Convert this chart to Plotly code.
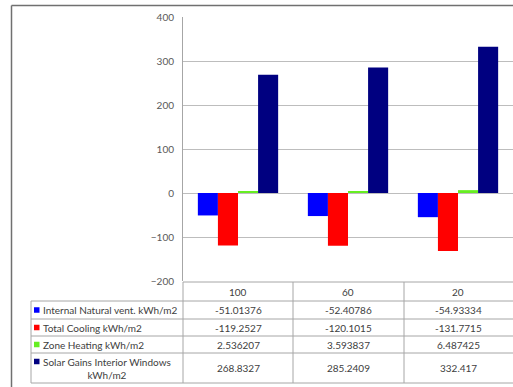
import plotly.graph_objects as go

# Orientation categories (column headers of the data table)
categories = ["100", "60", "20"]

# Series names and values (kWh/m2)
series_names = [
    "Internal Natural vent. kWh/m2",
    "Total Cooling kWh/m2",
    "Zone Heating kWh/m2",
    "Solar Gains Interior Windows kWh/m2",
]
natural_vent = [-51.01376, -52.40786, -54.93334]
total_cooling = [-119.2527, -120.1015, -131.7715]
zone_heating = [2.536207, 3.593837, 6.487425]
solar_gains = [268.8327, 285.2409, 332.417]

# Labels shown in the first column of the data table
row_labels = [
    "Internal Natural vent. kWh/m2",
    "Total Cooling kWh/m2",
    "Zone Heating kWh/m2",
    "Solar Gains Interior Windows<br>kWh/m2",
]
value_labels = [
    ["-51.01376", "-52.40786", "-54.93334"],
    ["-119.2527", "-120.1015", "-131.7715"],
    ["2.536207", "3.593837", "6.487425"],
    ["268.8327", "285.2409", "332.417"],
]

y_ticks = [-200, -100, 0, 100, 200, 300, 400]

colors = ["#0000FF", "#FF0000", "#66EE22", "#000080"]
series_values = [natural_vent, total_cooling, zone_heating, solar_gains]

W, H = 513, 387
ML, MR, MT, MB = 183, 0, 17, 106
PW, PH = W - ML - MR, H - MT - MB

FONT = "Lato"
TEXT = "#404040"
GRID = "#bdbdbd"
TABLE_LINE = "#a6a6a6"
FS = 10


def px_x(px):
    return (px - ML) / PW


def px_y(py):
    return (H - MB - py) / PH


fig = go.Figure()
for name, vals, col in zip(series_names, series_values, colors):
    fig.add_trace(go.Bar(
        x=categories, y=vals, name=name,
        marker=dict(color=col, line=dict(width=0)),
    ))

shapes = []
annotations = []

# Outer chart-area frame (open to the right and bottom)
shapes.append(dict(type="line", xref="paper", yref="paper",
                   x0=px_x(11.5), x1=px_x(520), y0=px_y(5.5), y1=px_y(5.5),
                   line=dict(color="#707070", width=1.5)))
shapes.append(dict(type="line", xref="paper", yref="paper",
                   x0=px_x(11.5), x1=px_x(11.5), y0=px_y(5.5), y1=px_y(395),
                   line=dict(color="#707070", width=1.5)))

# Data table grid
row_edges = [282, 301, 319, 336, 353, 383]
col_edges = [183, 293, 404]
legend_left = 31

for i, ry in enumerate(row_edges):
    x_start = 183 if i == 0 else legend_left
    shapes.append(dict(type="line", xref="paper", yref="paper",
                       x0=px_x(x_start), x1=px_x(520), y0=px_y(ry), y1=px_y(ry),
                       line=dict(color=TABLE_LINE, width=1)))
for cx in col_edges:
    shapes.append(dict(type="line", xref="paper", yref="paper",
                       x0=px_x(cx), x1=px_x(cx), y0=px_y(282), y1=px_y(383),
                       line=dict(color=TABLE_LINE, width=1)))
shapes.append(dict(type="line", xref="paper", yref="paper",
                   x0=px_x(legend_left), x1=px_x(legend_left),
                   y0=px_y(301), y1=px_y(383),
                   line=dict(color=TABLE_LINE, width=1)))

# Header row: category names centred over each group of bars
for i, cat in enumerate(categories):
    annotations.append(dict(x=i, xref="x", y=px_y(291.5), yref="paper",
                            text=cat, showarrow=False,
                            xanchor="center", yanchor="middle",
                            font=dict(family=FONT, size=FS, color=TEXT)))

# Body rows
row_centers = [310, 327.5, 344.5, 368]
for r, (label, col, vals) in enumerate(zip(row_labels, colors, value_labels)):
    cy = row_centers[r]
    key_y = cy if r < 3 else 361.5
    shapes.append(dict(type="rect", xref="paper", yref="paper",
                       x0=px_x(34), x1=px_x(39.5),
                       y0=px_y(key_y - 2.75), y1=px_y(key_y + 2.75),
                       fillcolor=col, line=dict(width=0)))
    annotations.append(dict(x=px_x(41), xref="paper", y=px_y(cy), yref="paper",
                            text=label, showarrow=False,
                            xanchor="left", yanchor="middle", align="center",
                            font=dict(family=FONT, size=FS, color=TEXT)))
    for i, v in enumerate(vals):
        annotations.append(dict(x=i, xref="x", y=px_y(cy), yref="paper",
                                text=v, showarrow=False,
                                xanchor="center", yanchor="middle",
                                font=dict(family=FONT, size=FS, color=TEXT)))

fig.update_layout(
    width=W, height=H,
    margin=dict(l=ML, r=MR, t=MT, b=MB, pad=0),
    paper_bgcolor="white", plot_bgcolor="white",
    barmode="group", bargap=0.27, bargroupgap=0,
    showlegend=False,
    shapes=shapes, annotations=annotations,
    font=dict(family=FONT, color=TEXT),
)
fig.update_xaxes(
    type="category", range=[-0.5, 2.5],
    showticklabels=False, showgrid=False, showline=False, zeroline=False,
)
fig.update_yaxes(
    range=[-200, 400], tickvals=y_ticks,
    showgrid=True, gridcolor=GRID, gridwidth=1,
    zeroline=True, zerolinecolor=GRID, zerolinewidth=1,
    showline=True, linecolor=TABLE_LINE, linewidth=1,
    ticks="", ticklabelstandoff=6,
    tickfont=dict(family=FONT, size=10, color="#595959"),
)

fig.write_html("out.html")
